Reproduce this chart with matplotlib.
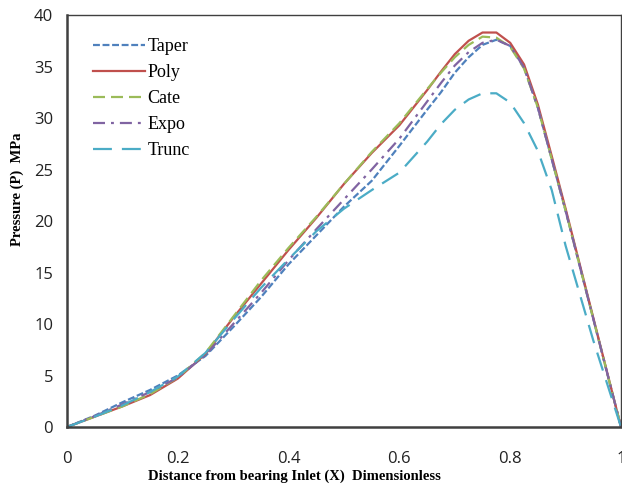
import numpy as np
import matplotlib
matplotlib.use("Agg")
import matplotlib.pyplot as plt

# distance from bearing inlet (dimensionless)
x = [0, 0.05, 0.1, 0.15, 0.2, 0.25, 0.3, 0.35, 0.4, 0.45, 0.5, 0.55,
     0.6, 0.65, 0.675, 0.7, 0.725, 0.75, 0.775, 0.8, 0.825, 0.85, 0.875,
     0.9, 0.95, 1.0]

# pressure in MPa
taper = [0, 1.1, 2.4, 3.6, 5.0, 6.9, 9.7, 12.6, 15.8, 18.6, 21.4, 23.9,
         27.3, 30.8, 32.5, 34.4, 35.9, 37.1, 37.6, 37.0, 34.9, 31.0, 26.0,
         21.0, 10.5, 0]
poly = [0, 1.0, 2.0, 3.1, 4.7, 7.1, 10.6, 13.9, 17.2, 20.3, 23.6, 26.6,
        29.3, 32.7, 34.5, 36.2, 37.5, 38.3, 38.3, 37.3, 35.2, 31.3, 26.3,
        21.2, 10.6, 0]
cate = [0, 1.0, 2.0, 3.2, 4.8, 7.2, 10.7, 14.2, 17.4, 20.4, 23.6, 26.7,
        29.5, 32.8, 34.4, 35.9, 37.1, 37.9, 37.8, 36.9, 34.8, 31.0, 26.0,
        21.0, 10.5, 0]
expo = [0, 1.05, 2.2, 3.4, 4.8, 7.0, 10.0, 13.0, 16.2, 19.2, 22.1, 25.0,
        28.0, 31.6, 33.4, 35.1, 36.4, 37.3, 37.6, 37.0, 34.9, 31.0, 26.0,
        21.0, 10.5, 0]
trunc = [0, 1.0, 2.1, 3.4, 4.9, 7.2, 10.4, 13.5, 16.3, 19.0, 21.2, 23.0,
         24.7, 27.7, 29.4, 30.8, 31.8, 32.4, 32.4, 31.5, 29.5, 26.8, 23.0,
         17.6, 8.4, 0]

fig = plt.figure(figsize=(6.22, 4.86), dpi=100)
ax = fig.add_axes([0.1077, 0.1214, 0.8907, 0.8477])

lw = 1.6
ax.plot(x, taper, color='#4F81BD', lw=lw, dashes=(3.1, 1.2), label='Taper')
ax.plot(x, poly, color='#C0504D', lw=lw, label='Poly')
ax.plot(x, cate, color='#9BBB59', lw=lw, dashes=(5.4, 2.7), label='Cate')
ax.plot(x, expo, color='#8064A2', lw=lw, dashes=(5.4, 2.7, 1.3, 2.7), label='Expo')
ax.plot(x, trunc, color='#4BACC6', lw=lw, dashes=(8.5, 4.5), label='Trunc')

ax.set_xlim(0, 1)
ax.set_ylim(0, 40)
ax.set_xticks([0, 0.2, 0.4, 0.6, 0.8, 1])
ax.set_xticklabels(['0', '0.2', '0.4', '0.6', '0.8', '1'])
ax.set_yticks(range(0, 41, 5))
ax.tick_params(length=0, labelsize=12)
ax.tick_params(axis='x', pad=17)
ax.tick_params(axis='y', pad=10)
for lab in ax.get_xticklabels() + ax.get_yticklabels():
    lab.set_family('Open Sans')
    lab.set_color('#222222')

for s in ['left', 'bottom']:
    ax.spines[s].set_linewidth(1.8)
    ax.spines[s].set_color('#404040')
for s in ['top', 'right']:
    ax.spines[s].set_linewidth(1.0)
    ax.spines[s].set_color('#404040')

ax.set_xlabel('Distance from bearing Inlet (X)  Dimensionless',
              family='Liberation Serif', weight='bold', fontsize=10.5)
ax.set_ylabel('Pressure (P)  MPa', family='Liberation Serif',
              weight='bold', fontsize=10.5)
ax.xaxis.set_label_coords(0.41, -0.104)
ax.yaxis.set_label_coords(-0.077, 0.577)

leg = ax.legend(loc='upper left', bbox_to_anchor=(0.018, 0.983), frameon=False,
                prop={'family': 'Liberation Serif', 'size': 13},
                handlelength=2.85, handletextpad=0.15, labelspacing=0.5)

fig.savefig('out.png', dpi=100)
